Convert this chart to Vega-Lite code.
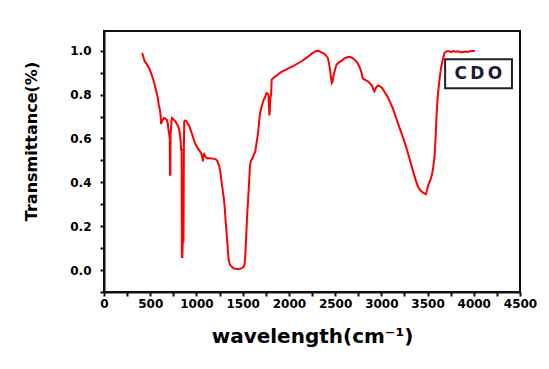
{
  "$schema": "https://vega.github.io/schema/vega-lite/v6.json",
  "width": 416,
  "height": 261,
  "autosize": "none",
  "padding": {"left": 104, "top": 31, "right": 29, "bottom": 77},
  "background": "white",
  "config": {
    "view": {"stroke": "#111111", "strokeWidth": 2},
    "font": "DejaVu Sans"
  },
  "datasets": {
    "spectrum": [
      {"w": 413, "t": 0.99}, {"w": 440, "t": 0.952}, {"w": 462, "t": 0.94}, {"w": 489, "t": 0.92},
      {"w": 508, "t": 0.9}, {"w": 527, "t": 0.876}, {"w": 545, "t": 0.85}, {"w": 565, "t": 0.815},
      {"w": 580, "t": 0.79}, {"w": 592, "t": 0.754}, {"w": 605, "t": 0.73}, {"w": 614, "t": 0.7},
      {"w": 617, "t": 0.666}, {"w": 630, "t": 0.68}, {"w": 648, "t": 0.693}, {"w": 665, "t": 0.69},
      {"w": 678, "t": 0.686}, {"w": 690, "t": 0.67}, {"w": 697, "t": 0.64}, {"w": 705, "t": 0.62},
      {"w": 712, "t": 0.6}, {"w": 714, "t": 0.435}, {"w": 718, "t": 0.435}, {"w": 720, "t": 0.62},
      {"w": 724, "t": 0.64}, {"w": 730, "t": 0.68}, {"w": 736, "t": 0.693}, {"w": 755, "t": 0.685},
      {"w": 773, "t": 0.678}, {"w": 790, "t": 0.665}, {"w": 804, "t": 0.655}, {"w": 815, "t": 0.635},
      {"w": 823, "t": 0.617}, {"w": 830, "t": 0.58}, {"w": 834, "t": 0.549}, {"w": 840, "t": 0.549},
      {"w": 843, "t": 0.06}, {"w": 848, "t": 0.06}, {"w": 852, "t": 0.13}, {"w": 860, "t": 0.13},
      {"w": 864, "t": 0.55}, {"w": 868, "t": 0.678}, {"w": 878, "t": 0.682}, {"w": 895, "t": 0.678},
      {"w": 910, "t": 0.665}, {"w": 924, "t": 0.655}, {"w": 940, "t": 0.635}, {"w": 955, "t": 0.617},
      {"w": 975, "t": 0.59}, {"w": 993, "t": 0.571}, {"w": 1015, "t": 0.555}, {"w": 1038, "t": 0.541},
      {"w": 1055, "t": 0.53}, {"w": 1065, "t": 0.51}, {"w": 1069, "t": 0.496}, {"w": 1075, "t": 0.52},
      {"w": 1084, "t": 0.529}, {"w": 1095, "t": 0.52}, {"w": 1114, "t": 0.51}, {"w": 1150, "t": 0.51},
      {"w": 1190, "t": 0.507}, {"w": 1210, "t": 0.505}, {"w": 1228, "t": 0.496}, {"w": 1245, "t": 0.475},
      {"w": 1258, "t": 0.45}, {"w": 1273, "t": 0.397}, {"w": 1285, "t": 0.36}, {"w": 1296, "t": 0.328},
      {"w": 1305, "t": 0.29}, {"w": 1311, "t": 0.252}, {"w": 1322, "t": 0.19}, {"w": 1334, "t": 0.13},
      {"w": 1342, "t": 0.08}, {"w": 1349, "t": 0.046}, {"w": 1362, "t": 0.025}, {"w": 1380, "t": 0.016},
      {"w": 1400, "t": 0.008}, {"w": 1436, "t": 0.005}, {"w": 1470, "t": 0.006}, {"w": 1493, "t": 0.009},
      {"w": 1510, "t": 0.015}, {"w": 1519, "t": 0.023}, {"w": 1526, "t": 0.05}, {"w": 1531, "t": 0.092},
      {"w": 1540, "t": 0.17}, {"w": 1549, "t": 0.252}, {"w": 1560, "t": 0.33}, {"w": 1569, "t": 0.397},
      {"w": 1580, "t": 0.48}, {"w": 1592, "t": 0.5}, {"w": 1607, "t": 0.51}, {"w": 1620, "t": 0.525},
      {"w": 1637, "t": 0.541}, {"w": 1650, "t": 0.58}, {"w": 1664, "t": 0.617}, {"w": 1675, "t": 0.66},
      {"w": 1682, "t": 0.693}, {"w": 1690, "t": 0.72}, {"w": 1702, "t": 0.739}, {"w": 1715, "t": 0.76},
      {"w": 1728, "t": 0.777}, {"w": 1745, "t": 0.79}, {"w": 1758, "t": 0.807}, {"w": 1770, "t": 0.805},
      {"w": 1780, "t": 0.8}, {"w": 1788, "t": 0.705}, {"w": 1793, "t": 0.72}, {"w": 1800, "t": 0.785},
      {"w": 1808, "t": 0.8}, {"w": 1814, "t": 0.868}, {"w": 1830, "t": 0.875}, {"w": 1850, "t": 0.882},
      {"w": 1872, "t": 0.888}, {"w": 1900, "t": 0.898}, {"w": 1929, "t": 0.906}, {"w": 1960, "t": 0.912},
      {"w": 1990, "t": 0.918}, {"w": 2023, "t": 0.925}, {"w": 2060, "t": 0.933}, {"w": 2100, "t": 0.943},
      {"w": 2137, "t": 0.952}, {"w": 2175, "t": 0.963}, {"w": 2213, "t": 0.975}, {"w": 2250, "t": 0.988},
      {"w": 2289, "t": 0.998}, {"w": 2320, "t": 1.0}, {"w": 2340, "t": 0.995}, {"w": 2364, "t": 0.99},
      {"w": 2395, "t": 0.982}, {"w": 2421, "t": 0.967}, {"w": 2435, "t": 0.94}, {"w": 2447, "t": 0.906},
      {"w": 2458, "t": 0.87}, {"w": 2465, "t": 0.853}, {"w": 2472, "t": 0.858}, {"w": 2480, "t": 0.88},
      {"w": 2490, "t": 0.899}, {"w": 2503, "t": 0.92}, {"w": 2516, "t": 0.937}, {"w": 2545, "t": 0.948},
      {"w": 2573, "t": 0.955}, {"w": 2600, "t": 0.965}, {"w": 2629, "t": 0.97}, {"w": 2660, "t": 0.972},
      {"w": 2687, "t": 0.967}, {"w": 2715, "t": 0.958}, {"w": 2743, "t": 0.944}, {"w": 2765, "t": 0.925},
      {"w": 2781, "t": 0.906}, {"w": 2800, "t": 0.873}, {"w": 2830, "t": 0.866}, {"w": 2857, "t": 0.86},
      {"w": 2880, "t": 0.85}, {"w": 2902, "t": 0.838}, {"w": 2915, "t": 0.822}, {"w": 2925, "t": 0.815},
      {"w": 2940, "t": 0.83}, {"w": 2963, "t": 0.842}, {"w": 2985, "t": 0.838}, {"w": 3009, "t": 0.83},
      {"w": 3035, "t": 0.812}, {"w": 3065, "t": 0.792}, {"w": 3095, "t": 0.766}, {"w": 3123, "t": 0.739},
      {"w": 3150, "t": 0.705}, {"w": 3179, "t": 0.67}, {"w": 3208, "t": 0.636}, {"w": 3236, "t": 0.602},
      {"w": 3265, "t": 0.565}, {"w": 3293, "t": 0.526}, {"w": 3320, "t": 0.485}, {"w": 3350, "t": 0.442},
      {"w": 3372, "t": 0.41}, {"w": 3395, "t": 0.381}, {"w": 3420, "t": 0.365}, {"w": 3444, "t": 0.355},
      {"w": 3465, "t": 0.35}, {"w": 3482, "t": 0.346}, {"w": 3495, "t": 0.365}, {"w": 3509, "t": 0.389},
      {"w": 3530, "t": 0.41}, {"w": 3547, "t": 0.435}, {"w": 3562, "t": 0.47}, {"w": 3577, "t": 0.526},
      {"w": 3587, "t": 0.6}, {"w": 3596, "t": 0.693}, {"w": 3605, "t": 0.76}, {"w": 3615, "t": 0.815},
      {"w": 3630, "t": 0.87}, {"w": 3645, "t": 0.92}, {"w": 3665, "t": 0.96}, {"w": 3683, "t": 0.99},
      {"w": 3705, "t": 0.998}, {"w": 3729, "t": 0.998}, {"w": 3760, "t": 0.994}, {"w": 3785, "t": 0.998},
      {"w": 3804, "t": 0.995}, {"w": 3830, "t": 0.997}, {"w": 3855, "t": 0.993}, {"w": 3880, "t": 0.993},
      {"w": 3910, "t": 0.996}, {"w": 3935, "t": 0.994}, {"w": 3956, "t": 0.998}, {"w": 3985, "t": 0.999},
      {"w": 4012, "t": 1.0}
    ],
    "box": [
      {"w": 3690, "w2": 4413, "t": 0.829, "t2": 0.961}
    ],
    "tag": [
      {"w": 4050, "t": 0.895, "name": "C\u2009D\u2009O"}
    ]
  },
  "encoding": {
    "x": {
      "field": "w",
      "type": "quantitative",
      "scale": {"domain": [0, 4500], "nice": false, "zero": false},
      "axis": {
        "title": "wavelength(cm⁻¹)",
        "titleFontSize": 20,
        "titleFontWeight": "bold",
        "titleColor": "#000000",
        "titlePadding": 17,
        "values": [0, 250, 500, 750, 1000, 1250, 1500, 1750, 2000, 2250, 2500, 2750, 3000, 3250, 3500, 3750, 4000, 4250, 4500],
        "labelExpr": "datum.value % 500 == 0 ? format(datum.value, 'd') : ''",
        "labelFontSize": 12,
        "labelFontWeight": "bold",
        "labelColor": "#000000",
        "labelPadding": 2,
        "labelFlush": false,
        "labelOverlap": false,
        "grid": false,
        "domainColor": "#111111",
        "domainWidth": 2,
        "tickColor": "#111111",
        "tickWidth": 2,
        "tickSize": 4
      }
    },
    "y": {
      "field": "t",
      "type": "quantitative",
      "scale": {"domain": [-0.1, 1.09], "nice": false, "zero": false},
      "axis": {
        "title": "Transmittance(%)",
        "titleFontSize": 16,
        "titleFontWeight": "bold",
        "titleColor": "#000000",
        "titlePadding": 30,
        "titleY": 110,
        "values": [-0.1, 0, 0.1, 0.2, 0.3, 0.4, 0.5, 0.6, 0.7, 0.8, 0.9, 1.0],
        "labelExpr": "(datum.value >= -0.001 && abs(round(datum.value * 10)) % 2 == 0) ? format(datum.value, '.1f') : ''",
        "labelFontSize": 12,
        "labelFontWeight": "bold",
        "labelColor": "#000000",
        "labelPadding": 9,
        "labelOverlap": false,
        "grid": false,
        "domainColor": "#111111",
        "domainWidth": 2,
        "tickColor": "#111111",
        "tickWidth": 2,
        "tickSize": 4
      }
    }
  },
  "layer": [
    {
      "data": {"name": "spectrum"},
      "mark": {"type": "line", "strokeWidth": 2, "interpolate": "linear", "color": "#ff0000"}
    },
    {
      "data": {"name": "box"},
      "mark": {"type": "rect", "fill": "white", "stroke": "#222222", "strokeWidth": 2},
      "encoding": {
        "x2": {"field": "w2"},
        "y2": {"field": "t2"}
      }
    },
    {
      "data": {"name": "tag"},
      "mark": {"type": "text", "fontSize": 17, "fontWeight": "bold", "color": "#1c1c34", "align": "center", "baseline": "middle"},
      "encoding": {
        "text": {"field": "name"}
      }
    }
  ]
}
